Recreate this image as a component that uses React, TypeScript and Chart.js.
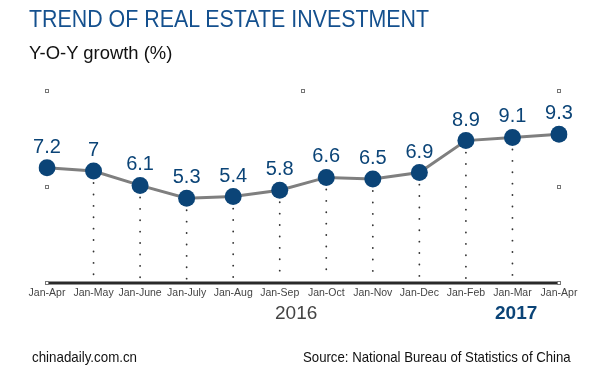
import React, { useEffect, useRef } from "react";
import { Chart, registerables } from "chart.js";

Chart.register(...registerables);

const categories = [
  "Jan-Apr", "Jan-May", "Jan-June", "Jan-July", "Jan-Aug", "Jan-Sep",
  "Jan-Oct", "Jan-Nov", "Jan-Dec", "Jan-Feb", "Jan-Mar", "Jan-Apr",
];
const growth = [7.2, 7, 6.1, 5.3, 5.4, 5.8, 6.6, 6.5, 6.9, 8.9, 9.1, 9.3];
const valueLabels = ["7.2", "7", "6.1", "5.3", "5.4", "5.8", "6.6", "6.5", "6.9", "8.9", "9.1", "9.3"];
const yMin = 0;
const yMax = 12;

const BLUE = "#0b4477";
const FONT = "'Liberation Sans', Arial, sans-serif";

const decorPlugin = {
  id: "decor",
  beforeDatasetsDraw(chart: any) {
    const ctx = chart.ctx;
    const meta = chart.getDatasetMeta(0);
    const area = chart.chartArea;
    ctx.save();
    ctx.strokeStyle = "#333";
    ctx.lineWidth = 1.8;
    ctx.lineCap = "round";
    ctx.setLineDash([0.1, 11.3]);
    meta.data.forEach((pt: any, i: number) => {
      if (i === 0 || i === meta.data.length - 1) return;
      ctx.beginPath();
      ctx.moveTo(pt.x, pt.y + 12);
      ctx.lineTo(pt.x, area.bottom - 4);
      ctx.stroke();
    });
    ctx.setLineDash([]);
    ctx.strokeStyle = "#2a2a2a";
    ctx.lineWidth = 3;
    ctx.lineCap = "butt";
    ctx.beginPath();
    ctx.moveTo(area.left, area.bottom);
    ctx.lineTo(area.right, area.bottom);
    ctx.stroke();
    const midX = (area.left + area.right) / 2;
    const midY = (area.top + area.bottom) / 2;
    const handles = [
      [area.left, area.top], [midX, area.top], [area.right, area.top],
      [area.left, midY], [area.right, midY],
      [area.left, area.bottom], [area.right, area.bottom],
    ];
    ctx.lineWidth = 1;
    ctx.strokeStyle = "#777";
    ctx.fillStyle = "#fff";
    handles.forEach(([x, y]) => {
      ctx.fillRect(Math.round(x) - 2, Math.round(y) - 2, 4, 4);
      ctx.strokeRect(Math.round(x) - 1.5, Math.round(y) - 1.5, 3, 3);
    });
    ctx.restore();
  },
  afterDatasetsDraw(chart: any) {
    const ctx = chart.ctx;
    const meta = chart.getDatasetMeta(0);
    ctx.save();
    ctx.fillStyle = BLUE;
    ctx.font = `20px ${FONT}`;
    ctx.textAlign = "center";
    ctx.textBaseline = "alphabetic";
    meta.data.forEach((pt: any, i: number) => {
      ctx.fillText(valueLabels[i], pt.x, pt.y - 15);
    });
    ctx.restore();
  },
};

export default function App() {
  const ref = useRef<HTMLCanvasElement | null>(null);
  useEffect(() => {
    document.body.style.margin = "0";
    const chart = new Chart(ref.current as HTMLCanvasElement, {
      type: "line",
      data: {
        labels: categories,
        datasets: [
          {
            data: growth,
            borderColor: "#7f7f7f",
            borderWidth: 3,
            pointRadius: 8.5,
            pointHoverRadius: 8.5,
            pointBackgroundColor: BLUE,
            pointBorderColor: BLUE,
            pointBorderWidth: 0,
            tension: 0,
          },
        ],
      },
      options: {
        responsive: false,
        animation: false,
        events: [],
        layout: { padding: { left: 47, right: 41, top: 91, bottom: 52 } },
        plugins: { legend: { display: false }, tooltip: { enabled: false }, title: { display: false } },
        scales: {
          x: {
            offset: false,
            grid: { display: false, drawTicks: false, tickLength: 0 },
            border: { display: false },
            ticks: {
              color: "#444",
              font: { family: FONT, size: 10.5 },
              maxRotation: 0,
              minRotation: 0,
              autoSkip: false,
              padding: 4,
            },
            afterFit: (s: any) => {
              s.height = 35;
            },
          },
          y: { display: false, min: yMin, max: yMax },
        },
      },
      plugins: [decorPlugin],
    });
    return () => chart.destroy();
  }, []);

  const abs = (x: number, y: number, sx: number, extra: any = {}) => ({
    position: "absolute" as const,
    left: x,
    top: y,
    fontFamily: FONT,
    whiteSpace: "nowrap" as const,
    lineHeight: 1,
    transform: `scaleX(${sx})`,
    transformOrigin: "left top",
    ...extra,
  });

  return (
    <div style={{ position: "relative", width: 600, height: 370, background: "#fff", overflow: "hidden" }}>
      <canvas ref={ref} width={600} height={370} style={{ position: "absolute", left: 0, top: 0 }} />
      <div style={abs(29, 8, 0.93, { fontSize: 23, color: "#14508e" })}>TREND OF REAL ESTATE INVESTMENT</div>
      <div style={abs(29, 43, 0.97, { fontSize: 19, color: "#111" })}>Y-O-Y growth (%)</div>
      <div style={abs(275, 303, 1, { fontSize: 19, color: "#444" })}>2016</div>
      <div style={abs(495, 303, 1, { fontSize: 19, color: BLUE, fontWeight: "bold" })}>2017</div>
      <div style={abs(32, 350, 0.92, { fontSize: 14.5, color: "#111" })}>chinadaily.com.cn</div>
      <div style={abs(303, 350, 0.91, { fontSize: 14.5, color: "#111" })}>Source: National Bureau of Statistics of China</div>
    </div>
  );
}
